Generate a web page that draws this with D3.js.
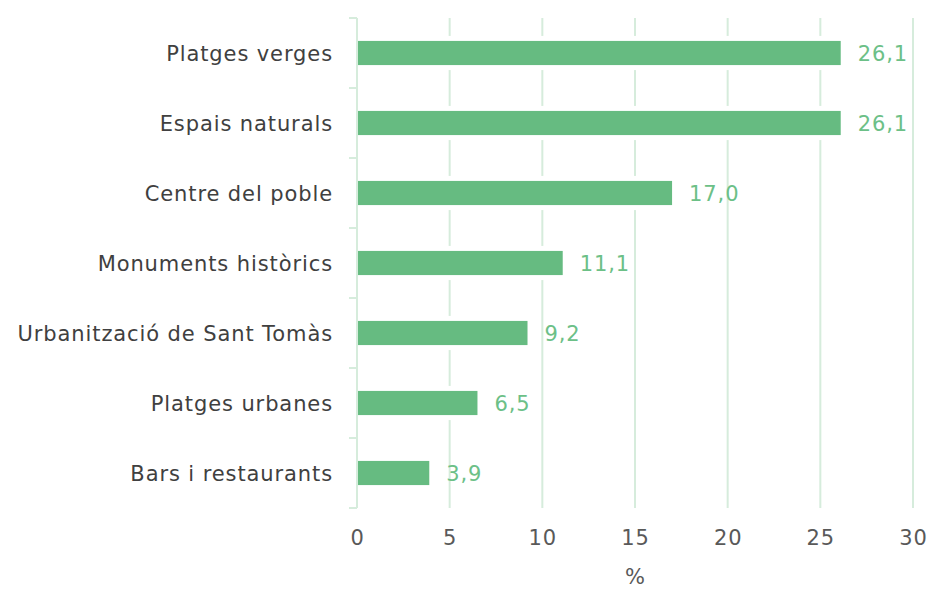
<!DOCTYPE html>
<html>
<head>
<meta charset="utf-8">
<script src="https://cdn.jsdelivr.net/npm/d3@7"></script>
<style>
  body { margin: 0; background: #fff; }
  text { font-family: "DejaVu Sans", sans-serif; }
</style>
</head>
<body>
<div class="content"></div>
<script>
// chart data
const categories = ['Platges verges', 'Espais naturals', 'Centre del poble', 'Monuments històrics',
                    'Urbanització de Sant Tomàs', 'Platges urbanes', 'Bars i restaurants'];
const values = [26.1, 26.1, 17.0, 11.1, 9.2, 6.5, 3.9];
const xTicks = [0, 5, 10, 15, 20, 25, 30];
const axisTitle = '%';

function main() {
  const svgW = 929, svgH = 589;
  const svg = d3.select('.content').append('svg')
                .attr('width', svgW)
                .attr('height', svgH);

  const left = 357, right = 913, top = 18, bottom = 508;
  const barColor = '#66bb81', gridColor = '#d6ecdc';
  const fontSpacing = '0.9px', fontSize = 21;

  const x = d3.scaleLinear().domain([0, 30]).range([left, right]);
  const y = d3.scaleBand().domain(categories).range([top, bottom]).paddingInner(0.655).paddingOuter(0.3275);

  // vertical grid lines
  svg.append('g').selectAll('line')
     .data(xTicks.slice(1))
     .join('line')
       .attr('x1', d => x(d)).attr('x2', d => x(d))
       .attr('y1', top).attr('y2', bottom)
       .attr('stroke', gridColor).attr('stroke-width', 2);

  // bars (white halo cuts the grid)
  const bars = svg.append('g');
  bars.selectAll('rect.halo')
      .data(values)
      .join('rect')
        .attr('class', 'halo')
        .attr('x', x(0))
        .attr('y', (d, i) => y(categories[i]) - 5)
        .attr('width', d => x(d) - x(0) + 4)
        .attr('height', y.bandwidth() + 10)
        .attr('fill', '#fff');
  bars.selectAll('rect.bar')
      .data(values)
      .join('rect')
        .attr('class', 'bar')
        .attr('x', x(0) + 1)
        .attr('y', (d, i) => y(categories[i]))
        .attr('width', d => x(d) - x(0) - 1)
        .attr('height', y.bandwidth())
        .attr('fill', barColor);

  // value labels
  svg.append('g').selectAll('text')
     .data(values)
     .join('text')
       .attr('x', d => x(d) + 17)
       .attr('y', (d, i) => y(categories[i]) + y.bandwidth() / 2)
       .attr('dy', '0.36em')
       .attr('fill', '#6cc087')
       .attr('font-size', fontSize)
       .attr('letter-spacing', fontSpacing)
       .text(d => d.toFixed(1).replace('.', ','));

  // category axis
  const yAxis = svg.append('g')
                   .attr('transform', 'translate(' + left + ',0)');
  yAxis.append('line')
       .attr('x1', 0).attr('x2', 0).attr('y1', top).attr('y2', bottom)
       .attr('stroke', gridColor).attr('stroke-width', 2);
  const bounds = categories.map((c, i) => top + i * y.step()).concat([bottom]);
  yAxis.selectAll('line.tick')
       .data(bounds)
       .join('line')
         .attr('class', 'tick')
         .attr('x1', -8).attr('x2', 0)
         .attr('y1', d => d).attr('y2', d => d)
         .attr('stroke', gridColor).attr('stroke-width', 2);
  yAxis.selectAll('text')
       .data(categories)
       .join('text')
         .attr('x', -24)
         .attr('y', d => y(d) + y.bandwidth() / 2)
         .attr('dy', '0.36em')
         .attr('text-anchor', 'end')
         .attr('fill', '#404040')
         .attr('font-size', fontSize)
         .attr('letter-spacing', fontSpacing)
         .text(d => d);

  // x axis labels
  const xAxis = svg.append('g')
                   .attr('transform', 'translate(0,' + bottom + ')')
                   .call(d3.axisBottom(x).tickValues(xTicks).tickSize(0).tickPadding(22));
  xAxis.select('.domain').remove();
  xAxis.selectAll('text')
       .attr('fill', '#595959')
       .attr('font-size', fontSize)
       .attr('letter-spacing', fontSpacing)
       .style('font-family', '"DejaVu Sans", sans-serif');

  svg.append('text')
     .attr('x', (left + right) / 2)
     .attr('y', 584)
     .attr('text-anchor', 'middle')
     .attr('fill', '#595959')
     .attr('font-size', fontSize)
     .text(axisTitle);
}
main();
</script>
</body>
</html>
